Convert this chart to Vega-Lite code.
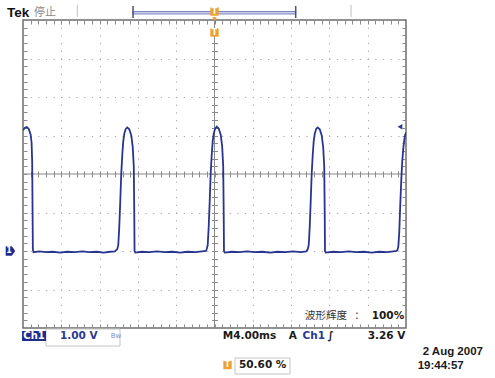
{
  "$schema": "https://vega.github.io/schema/vega-lite/v6.json",
  "width": 383,
  "height": 308,
  "autosize": {"type": "none"},
  "padding": {"left": 23, "top": 20, "right": 89, "bottom": 50},
  "background": "white",
  "config": {
    "view": {"stroke": "#6e6e6e", "strokeWidth": 1.5},
    "axis": {"labels": false, "title": null, "domain": false, "ticks": false, "grid": false}
  },
  "resolve": {"axis": {"x": "independent", "y": "independent"}},
  "layer": [
    {
      "data": {"values": [{"t": 0}]},
      "mark": {"type": "rule", "color": "#8a8a8a", "strokeWidth": 1},
      "encoding": {
        "x": {"field": "t", "type": "quantitative", "scale": {"domain": [-20, 20], "nice": false, "zero": false},
          "axis": {"orient": "bottom", "offset": -157, "ticks": true, "tickSize": 6, "tickColor": "#8a8a8a", "tickWidth": 1, "labels": false, "domain": false, "grid": false, "title": null,
            "values": [-19.2,-18.4,-17.6,-16.8,-16,-15.2,-14.4,-13.6,-12.8,-12,-11.2,-10.4,-9.6,-8.8,-8,-7.2,-6.4,-5.6,-4.8,-4,-3.2,-2.4,-1.6,-0.8,0,0.8,1.6,2.4,3.2,4,4.8,5.6,6.4,7.2,8,8.8,9.6,10.4,11.2,12,12.8,13.6,14.4,15.2,16,16.8,17.6,18.4,19.2]}}
      }
    },
    {
      "data": {"values": [{"v": 2}]},
      "mark": {"type": "rule", "color": "#8a8a8a", "strokeWidth": 1},
      "encoding": {
        "y": {"field": "v", "type": "quantitative", "scale": {"domain": [-2, 6], "nice": false, "zero": false},
          "axis": {"orient": "left", "offset": -194.5, "ticks": true, "tickSize": 6, "tickColor": "#8a8a8a", "tickWidth": 1, "labels": false, "domain": false, "grid": false, "title": null,
            "values": [-1.8,-1.6,-1.4,-1.2,-1,-0.8,-0.6,-0.4,-0.2,0,0.2,0.4,0.6,0.8,1,1.2,1.4,1.6,1.8,2,2.2,2.4,2.6,2.8,3,3.2,3.4,3.6,3.8,4,4.2,4.4,4.6,4.8,5,5.2,5.4,5.6,5.8]}}
      }
    },
    {
      "data": {"values": [
        {"t": -20.0, "v": 3.14}, {"t": -19.8, "v": 3.2}, {"t": -19.6, "v": 3.22}, {"t": -19.4, "v": 3.17}, {"t": -19.2, "v": 3.02}, {"t": -19.1, "v": 2.8}, {"t": -19.04, "v": 2.3}, {"t": -19.0, "v": 1.0}, {"t": -18.97, "v": 0.05}, {"t": -18.9, "v": -0.03},
        {"t": -18.3, "v": -0.01}, {"t": -17.6, "v": -0.03}, {"t": -16.9, "v": -0.02}, {"t": -16.1, "v": -0.04}, {"t": -15.4, "v": -0.02}, {"t": -14.6, "v": -0.03}, {"t": -13.8, "v": -0.01}, {"t": -13.1, "v": -0.03}, {"t": -12.3, "v": -0.02}, {"t": -11.6, "v": -0.04}, {"t": -10.9, "v": -0.02}, {"t": -10.4, "v": -0.01},
        {"t": -10.15, "v": 0.05}, {"t": -10.05, "v": 0.15}, {"t": -9.95, "v": 0.6}, {"t": -9.84, "v": 1.3}, {"t": -9.74, "v": 2.0}, {"t": -9.63, "v": 2.5}, {"t": -9.53, "v": 2.85}, {"t": -9.42, "v": 3.05}, {"t": -9.27, "v": 3.17}, {"t": -9.11, "v": 3.21}, {"t": -8.9, "v": 3.16}, {"t": -8.69, "v": 3.0}, {"t": -8.54, "v": 2.7}, {"t": -8.43, "v": 2.2}, {"t": -8.38, "v": 1.0}, {"t": -8.35, "v": 0.0}, {"t": -8.27, "v": -0.04},
        {"t": -7.6, "v": -0.02}, {"t": -6.8, "v": -0.03}, {"t": -6.0, "v": -0.01}, {"t": -5.2, "v": -0.03}, {"t": -4.4, "v": -0.02}, {"t": -3.6, "v": -0.04}, {"t": -2.8, "v": -0.02}, {"t": -2.0, "v": -0.03}, {"t": -1.3, "v": -0.01}, {"t": -0.9, "v": 0.0},
        {"t": -0.81, "v": 0.05}, {"t": -0.71, "v": 0.15}, {"t": -0.61, "v": 0.6}, {"t": -0.5, "v": 1.3}, {"t": -0.4, "v": 2.0}, {"t": -0.29, "v": 2.5}, {"t": -0.19, "v": 2.85}, {"t": -0.08, "v": 3.05}, {"t": 0.07, "v": 3.18}, {"t": 0.23, "v": 3.23}, {"t": 0.44, "v": 3.18}, {"t": 0.65, "v": 3.02}, {"t": 0.8, "v": 2.72}, {"t": 0.91, "v": 2.2}, {"t": 0.96, "v": 1.0}, {"t": 0.99, "v": 0.0}, {"t": 1.07, "v": -0.04},
        {"t": 1.8, "v": -0.02}, {"t": 2.6, "v": -0.03}, {"t": 3.4, "v": -0.01}, {"t": 4.2, "v": -0.03}, {"t": 5.0, "v": -0.02}, {"t": 5.8, "v": -0.04}, {"t": 6.6, "v": -0.02}, {"t": 7.4, "v": -0.03}, {"t": 8.2, "v": -0.01}, {"t": 9.0, "v": -0.03}, {"t": 9.6, "v": -0.01},
        {"t": 9.74, "v": 0.05}, {"t": 9.84, "v": 0.15}, {"t": 9.94, "v": 0.6}, {"t": 10.05, "v": 1.3}, {"t": 10.15, "v": 2.0}, {"t": 10.26, "v": 2.5}, {"t": 10.36, "v": 2.85}, {"t": 10.47, "v": 3.05}, {"t": 10.62, "v": 3.17}, {"t": 10.78, "v": 3.21}, {"t": 10.99, "v": 3.16}, {"t": 11.2, "v": 3.0}, {"t": 11.35, "v": 2.7}, {"t": 11.46, "v": 2.2}, {"t": 11.51, "v": 1.0}, {"t": 11.54, "v": 0.0}, {"t": 11.62, "v": -0.04},
        {"t": 12.4, "v": -0.02}, {"t": 13.2, "v": -0.03}, {"t": 14.0, "v": -0.01}, {"t": 14.8, "v": -0.03}, {"t": 15.6, "v": -0.02}, {"t": 16.4, "v": -0.04}, {"t": 17.2, "v": -0.02}, {"t": 18.0, "v": -0.03}, {"t": 18.7, "v": -0.01}, {"t": 19.0, "v": 0.0},
        {"t": 19.1, "v": 0.02}, {"t": 19.2, "v": 0.12}, {"t": 19.3, "v": 0.5}, {"t": 19.4, "v": 1.2}, {"t": 19.5, "v": 1.8}, {"t": 19.6, "v": 2.3}, {"t": 19.7, "v": 2.62}, {"t": 19.8, "v": 2.85}, {"t": 19.9, "v": 3.0}, {"t": 20.0, "v": 3.08}
      ]},
      "mark": {"type": "line", "color": "#28358f", "strokeWidth": 1.8, "clip": true},
      "encoding": {
        "x": {"field": "t", "type": "quantitative", "scale": {"domain": [-20, 20], "nice": false, "zero": false},
          "axis": {"orient": "bottom", "grid": true, "gridColor": "#a6a6a6", "gridWidth": 1, "gridDash": [1.2, 6.5], "gridDashOffset": 0.6, "ticks": false, "labels": false, "domain": false, "title": null,
            "values": [-16, -12, -8, -4, 4, 8, 12, 16]}},
        "y": {"field": "v", "type": "quantitative", "scale": {"domain": [-2, 6], "nice": false, "zero": false},
          "axis": {"orient": "left", "grid": true, "gridColor": "#a6a6a6", "gridWidth": 1, "gridDash": [1.2, 6.46], "gridDashOffset": 0.6, "ticks": false, "labels": false, "domain": false, "title": null,
            "values": [-1, 0, 1, 3, 4, 5]}}
      }
    },
    {
      "data": {"values": [{"t": 8.93, "t2": 19.9, "v": -1.506, "v2": -1.896}]},
      "mark": {"type": "rect", "color": "white"},
      "encoding": {
        "x": {"field": "t", "type": "quantitative", "scale": {"domain": [-20, 20], "nice": false, "zero": false}, "axis": null},
        "x2": {"field": "t2"},
        "y": {"field": "v", "type": "quantitative", "scale": {"domain": [-2, 6], "nice": false, "zero": false}, "axis": null},
        "y2": {"field": "v2"}
      }
    },
    {
      "data": {"values": [
        {"t": -17.60, "t2": -9.87, "v": -2.026, "v2": -2.468},
        {"t": 2.14, "t2": 7.885, "v": -2.779, "v2": -3.195}
      ]},
      "mark": {"type": "rect", "filled": false, "color": "#c4c4c4", "strokeWidth": 1},
      "encoding": {
        "x": {"field": "t", "type": "quantitative", "scale": {"domain": [-20, 20], "nice": false, "zero": false}, "axis": null},
        "x2": {"field": "t2"},
        "y": {"field": "v", "type": "quantitative", "scale": {"domain": [-2, 6], "nice": false, "zero": false}, "axis": null},
        "y2": {"field": "v2"}
      }
    },
    {
      "data": {"values": [{"t": -20.10, "t2": -17.60, "v": -2.078, "v2": -2.338}]},
      "mark": {"type": "rect", "color": "#1f2d8a"},
      "encoding": {
        "x": {"field": "t", "type": "quantitative", "scale": {"domain": [-20, 20], "nice": false, "zero": false}, "axis": null},
        "x2": {"field": "t2"},
        "y": {"field": "v", "type": "quantitative", "scale": {"domain": [-2, 6], "nice": false, "zero": false}, "axis": null},
        "y2": {"field": "v2"}
      }
    },
    {
      "data": {"values": [{"t": -8.51, "t2": 8.48, "v": 6.221, "v2": 6.156}]},
      "mark": {"type": "rect", "fill": "#c9cdea", "stroke": "#7e87c2", "strokeWidth": 1},
      "encoding": {
        "x": {"field": "t", "type": "quantitative", "scale": {"domain": [-20, 20], "nice": false, "zero": false}, "axis": null},
        "x2": {"field": "t2"},
        "y": {"field": "v", "type": "quantitative", "scale": {"domain": [-2, 6], "nice": false, "zero": false}, "axis": null},
        "y2": {"field": "v2"}
      }
    },
    {
      "data": {"values": [{"t": -8.51, "v": 6.364, "v2": 6.052}, {"t": 8.48, "v": 6.364, "v2": 6.052}]},
      "mark": {"type": "rule", "color": "#4a4f72", "strokeWidth": 1.5},
      "encoding": {
        "x": {"field": "t", "type": "quantitative", "scale": {"domain": [-20, 20], "nice": false, "zero": false}, "axis": null},
        "y": {"field": "v", "type": "quantitative", "scale": {"domain": [-2, 6], "nice": false, "zero": false}, "axis": null},
        "y2": {"field": "v2"}
      }
    },
    {
      "data": {"values": [{"t": -14.33, "v": 6.39, "v2": 6.078}, {"t": 14.26, "v": 6.39, "v2": 6.078}]},
      "mark": {"type": "rule", "color": "#c0c0c0", "strokeWidth": 1},
      "encoding": {
        "x": {"field": "t", "type": "quantitative", "scale": {"domain": [-20, 20], "nice": false, "zero": false}, "axis": null},
        "y": {"field": "v", "type": "quantitative", "scale": {"domain": [-2, 6], "nice": false, "zero": false}, "axis": null},
        "y2": {"field": "v2"}
      }
    },
    {
      "data": {"values": [{"t": 0, "v": 6.03}]},
      "mark": {"type": "point", "shape": "triangle-down", "filled": true, "color": "#f0a030", "size": 20, "opacity": 1},
      "encoding": {
        "x": {"field": "t", "type": "quantitative", "scale": {"domain": [-20, 20], "nice": false, "zero": false}, "axis": null},
        "y": {"field": "v", "type": "quantitative", "scale": {"domain": [-2, 6], "nice": false, "zero": false}, "axis": null}
      }
    },
    {
      "data": {"values": [{"t": 0, "v": 6.22}, {"t": 0, "v": 5.675}, {"t": 1.357, "v": -2.961}]},
      "mark": {"type": "point", "shape": "square", "filled": true, "color": "#f0a030", "size": 70, "opacity": 1},
      "encoding": {
        "x": {"field": "t", "type": "quantitative", "scale": {"domain": [-20, 20], "nice": false, "zero": false}, "axis": null},
        "y": {"field": "v", "type": "quantitative", "scale": {"domain": [-2, 6], "nice": false, "zero": false}, "axis": null}
      }
    },
    {
      "data": {"values": [{"t": 0, "v": 6.22, "label": "T"}, {"t": 0, "v": 5.675, "label": "T"}, {"t": 1.357, "v": -2.961, "label": "T"}]},
      "mark": {"type": "text", "font": "DejaVu Sans", "fontWeight": "bold", "fontSize": 8, "color": "white", "align": "center", "baseline": "middle"},
      "encoding": {
        "x": {"field": "t", "type": "quantitative", "scale": {"domain": [-20, 20], "nice": false, "zero": false}, "axis": null},
        "y": {"field": "v", "type": "quantitative", "scale": {"domain": [-2, 6], "nice": false, "zero": false}, "axis": null},
        "text": {"field": "label"}
      }
    },
    {
      "data": {"values": [{"t": -21.31, "v": 0}]},
      "mark": {"type": "point", "shape": "M-1,-1H0.3L1,0L0.3,1H-1Z", "filled": true, "color": "#1f2d8a", "size": 90, "opacity": 1},
      "encoding": {
        "x": {"field": "t", "type": "quantitative", "scale": {"domain": [-20, 20], "nice": false, "zero": false}, "axis": null},
        "y": {"field": "v", "type": "quantitative", "scale": {"domain": [-2, 6], "nice": false, "zero": false}, "axis": null}
      }
    },
    {
      "data": {"values": [{"t": -21.45, "v": 0, "label": "1"}]},
      "mark": {"type": "text", "font": "DejaVu Sans", "fontWeight": "bold", "fontSize": 8, "color": "white", "align": "center", "baseline": "middle"},
      "encoding": {
        "x": {"field": "t", "type": "quantitative", "scale": {"domain": [-20, 20], "nice": false, "zero": false}, "axis": null},
        "y": {"field": "v", "type": "quantitative", "scale": {"domain": [-2, 6], "nice": false, "zero": false}, "axis": null},
        "text": {"field": "label"}
      }
    },
    {
      "data": {"values": [{"t": 19.37, "v": 3.23}]},
      "mark": {"type": "point", "shape": "triangle-left", "filled": true, "color": "#2b3990", "size": 30, "opacity": 1},
      "encoding": {
        "x": {"field": "t", "type": "quantitative", "scale": {"domain": [-20, 20], "nice": false, "zero": false}, "axis": null},
        "y": {"field": "v", "type": "quantitative", "scale": {"domain": [-2, 6], "nice": false, "zero": false}, "axis": null}
      }
    },
    {
      "data": {"values": [{"t": -18.85, "v": -2.208, "label": "Ch1"}]},
      "mark": {"type": "text", "font": "DejaVu Sans", "fontWeight": "bold", "fontSize": 10, "color": "white", "align": "center", "baseline": "middle"},
      "encoding": {
        "x": {"field": "t", "type": "quantitative", "scale": {"domain": [-20, 20], "nice": false, "zero": false}, "axis": null},
        "y": {"field": "v", "type": "quantitative", "scale": {"domain": [-2, 6], "nice": false, "zero": false}, "axis": null},
        "text": {"field": "label"}
      }
    },
    {
      "data": {"values": [
        {"t": 0.857, "v": -2.208, "label": "M4.00ms"},
        {"t": 7.75, "v": -2.208, "label": "A"},
        {"t": 11.8, "v": -2.208, "label": "∫"},
        {"t": 16.0, "v": -2.208, "label": "3.26 V"},
        {"t": 2.559, "v": -2.961, "label": "50.60 %"},
        {"t": 16.42, "v": -1.69, "label": "100%"}
      ]},
      "mark": {"type": "text", "font": "DejaVu Sans", "fontWeight": "bold", "fontSize": 10.5, "color": "#1a1a1a", "align": "left", "baseline": "middle"},
      "encoding": {
        "x": {"field": "t", "type": "quantitative", "scale": {"domain": [-20, 20], "nice": false, "zero": false},
          "axis": {"orient": "bottom", "offset": -4, "ticks": true, "tickSize": 4, "tickColor": "#8a8a8a", "tickWidth": 1, "labels": false, "domain": false, "grid": false, "title": null,
            "values": [-19.2,-18.4,-17.6,-16.8,-16,-15.2,-14.4,-13.6,-12.8,-12,-11.2,-10.4,-9.6,-8.8,-8,-7.2,-6.4,-5.6,-4.8,-4,-3.2,-2.4,-1.6,-0.8,0,0.8,1.6,2.4,3.2,4,4.8,5.6,6.4,7.2,8,8.8,9.6,10.4,11.2,12,12.8,13.6,14.4,15.2,16,16.8,17.6,18.4,19.2]}},
        "y": {"field": "v", "type": "quantitative", "scale": {"domain": [-2, 6], "nice": false, "zero": false},
          "axis": {"orient": "left", "offset": -4, "ticks": true, "tickSize": 4, "tickColor": "#8a8a8a", "tickWidth": 1, "labels": false, "domain": false, "grid": false, "title": null,
            "values": [-1.8,-1.6,-1.4,-1.2,-1,-0.8,-0.6,-0.4,-0.2,0,0.2,0.4,0.6,0.8,1,1.2,1.4,1.6,1.8,2,2.2,2.4,2.6,2.8,3,3.2,3.4,3.6,3.8,4,4.2,4.4,4.6,4.8,5,5.2,5.4,5.6,5.8]}},
        "text": {"field": "label"}
      }
    },
    {
      "data": {"values": [
        {"t": -16.14, "v": -2.208, "label": "1.00 V"},
        {"t": 9.2, "v": -2.208, "label": "Ch1"}
      ]},
      "mark": {"type": "text", "font": "DejaVu Sans", "fontWeight": "bold", "fontSize": 10.5, "color": "#2b3990", "align": "left", "baseline": "middle"},
      "encoding": {
        "x": {"field": "t", "type": "quantitative", "scale": {"domain": [-20, 20], "nice": false, "zero": false},
          "axis": {"orient": "top", "offset": -4, "ticks": true, "tickSize": 4, "tickColor": "#8a8a8a", "tickWidth": 1, "labels": false, "domain": false, "grid": false, "title": null,
            "values": [-19.2,-18.4,-17.6,-16.8,-16,-15.2,-14.4,-13.6,-12.8,-12,-11.2,-10.4,-9.6,-8.8,-8,-7.2,-6.4,-5.6,-4.8,-4,-3.2,-2.4,-1.6,-0.8,0,0.8,1.6,2.4,3.2,4,4.8,5.6,6.4,7.2,8,8.8,9.6,10.4,11.2,12,12.8,13.6,14.4,15.2,16,16.8,17.6,18.4,19.2]}},
        "y": {"field": "v", "type": "quantitative", "scale": {"domain": [-2, 6], "nice": false, "zero": false},
          "axis": {"orient": "right", "offset": -4, "ticks": true, "tickSize": 4, "tickColor": "#8a8a8a", "tickWidth": 1, "labels": false, "domain": false, "grid": false, "title": null,
            "values": [-1.8,-1.6,-1.4,-1.2,-1,-0.8,-0.6,-0.4,-0.2,0,0.2,0.4,0.6,0.8,1,1.2,1.4,1.6,1.8,2,2.2,2.4,2.6,2.8,3,3.2,3.4,3.6,3.8,4,4.2,4.4,4.6,4.8,5,5.2,5.4,5.6,5.8]}},
        "text": {"field": "label"}
      }
    },
    {
      "data": {"values": [{"t": -10.29, "v": -2.208, "label": "Bw"}]},
      "mark": {"type": "text", "font": "DejaVu Sans", "fontSize": 7, "color": "#7d8cc8", "align": "center", "baseline": "middle"},
      "encoding": {
        "x": {"field": "t", "type": "quantitative", "scale": {"domain": [-20, 20], "nice": false, "zero": false}, "axis": null},
        "y": {"field": "v", "type": "quantitative", "scale": {"domain": [-2, 6], "nice": false, "zero": false}, "axis": null},
        "text": {"field": "label"}
      }
    },
    {
      "data": {"values": [
        {"t": 21.74, "v": -2.636, "label": "2 Aug 2007"},
        {"t": 21.22, "v": -2.987, "label": "19:44:57"}
      ]},
      "mark": {"type": "text", "font": "Liberation Sans", "fontWeight": "bold", "fontSize": 11.5, "color": "#1a1a1a", "align": "left", "baseline": "middle"},
      "encoding": {
        "x": {"field": "t", "type": "quantitative", "scale": {"domain": [-20, 20], "nice": false, "zero": false}, "axis": null},
        "y": {"field": "v", "type": "quantitative", "scale": {"domain": [-2, 6], "nice": false, "zero": false}, "axis": null},
        "text": {"field": "label"}
      }
    },
    {
      "data": {"values": [
        {"t": 9.45, "v": -1.69, "label": "波形辉度"},
        {"t": 14.6, "v": -1.69, "label": "："}
      ]},
      "mark": {"type": "text", "font": "Noto Sans CJK SC", "fontSize": 10.5, "color": "#333333", "align": "left", "baseline": "middle"},
      "encoding": {
        "x": {"field": "t", "type": "quantitative", "scale": {"domain": [-20, 20], "nice": false, "zero": false}, "axis": null},
        "y": {"field": "v", "type": "quantitative", "scale": {"domain": [-2, 6], "nice": false, "zero": false}, "axis": null},
        "text": {"field": "label"}
      }
    },
    {
      "data": {"values": [{"t": -21.67, "v": 6.169, "label": "Tek"}]},
      "mark": {"type": "text", "font": "Liberation Sans", "fontWeight": "bold", "fontSize": 13.5, "color": "#111111", "align": "left", "baseline": "middle"},
      "encoding": {
        "x": {"field": "t", "type": "quantitative", "scale": {"domain": [-20, 20], "nice": false, "zero": false}, "axis": null},
        "y": {"field": "v", "type": "quantitative", "scale": {"domain": [-2, 6], "nice": false, "zero": false}, "axis": null},
        "text": {"field": "label"}
      }
    },
    {
      "data": {"values": [{"t": -18.85, "v": 6.169, "label": "停止"}]},
      "mark": {"type": "text", "font": "Noto Sans CJK SC", "fontSize": 11, "color": "#8a8a8a", "align": "left", "baseline": "middle"},
      "encoding": {
        "x": {"field": "t", "type": "quantitative", "scale": {"domain": [-20, 20], "nice": false, "zero": false}, "axis": null},
        "y": {"field": "v", "type": "quantitative", "scale": {"domain": [-2, 6], "nice": false, "zero": false}, "axis": null},
        "text": {"field": "label"}
      }
    }
  ]
}
